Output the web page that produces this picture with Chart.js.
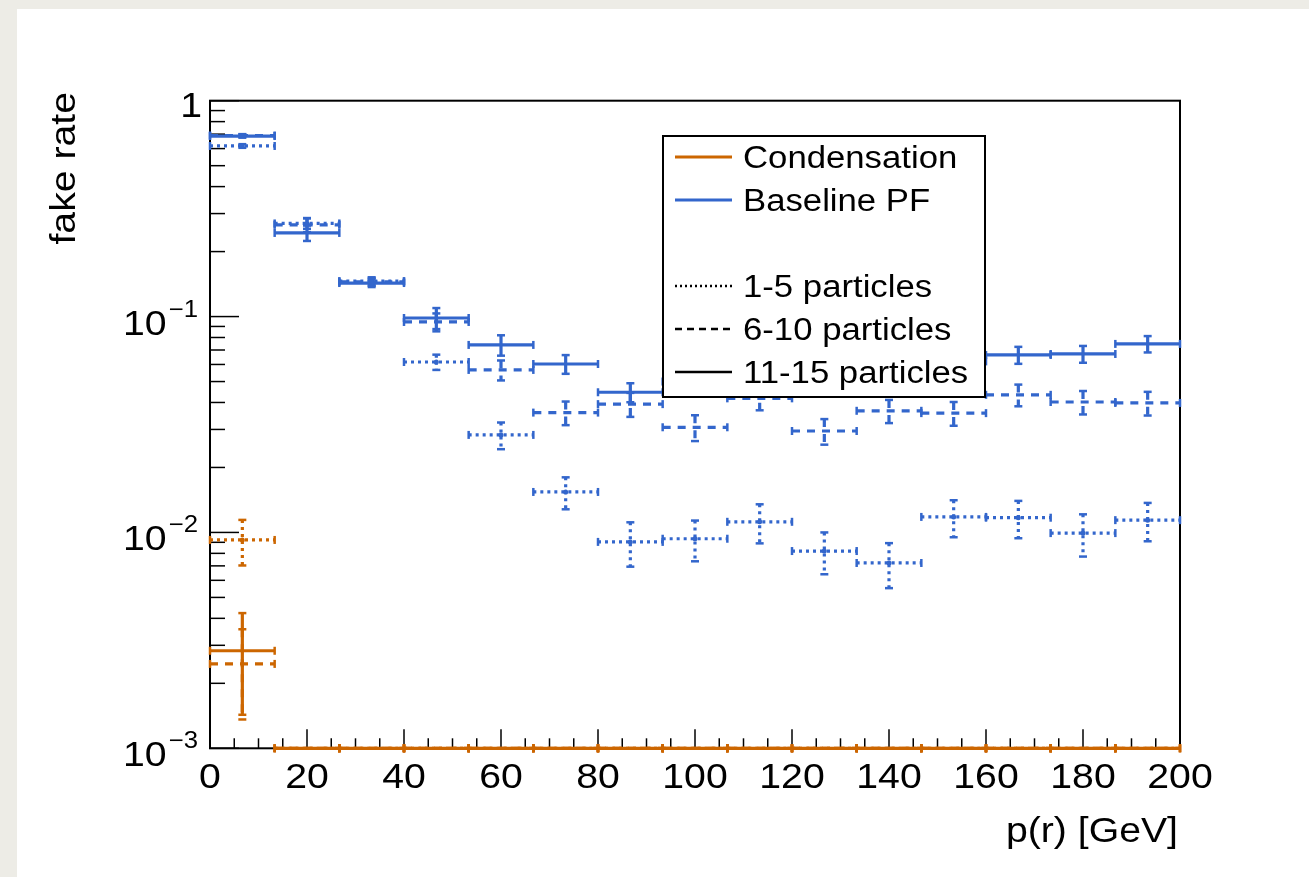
<!DOCTYPE html>
<html>
<head>
    <title>fake rate vs p(r)</title>
    <script src="https://cdn.jsdelivr.net/npm/chart.js"></script>
    <style>
        body {
            margin: 0;
            padding: 0;
            overflow: hidden;
            background-color: #edece6;
        }
        #panel {
            position: absolute;
            left: 17px;
            top: 9px;
            right: 0;
            bottom: 0;
            background: #ffffff;
        }
        #chart-container {
            position: absolute;
            left: 0;
            top: 0;
            width: 1309px;
            height: 877px;
        }
    </style>
</head>
<body>
    <div id="panel"></div>
    <div id="chart-container">
        <canvas id="myChart"></canvas>
    </div>

    <script>
        // bins in p(r) [GeV]
        const binEdges = [0, 13.333, 26.667, 40, 53.333, 66.667, 80, 93.333, 106.667, 120, 133.333, 146.667, 160, 173.333, 186.667, 200];
        const binCenters = [6.667, 20, 33.333, 46.667, 60, 73.333, 86.667, 100, 113.333, 126.667, 140, 153.333, 166.667, 180, 193.333];

        // Baseline PF
        const pf1to5 = [0.617, 0.270, 0.146, 0.0616, 0.0283, 0.0154, 0.00904, 0.00935, 0.0112, 0.0082, 0.00722, 0.0118, 0.0117, 0.00993, 0.0114];
        const pf1to5Err = [0.012, 0.015, 0.006, 0.005, 0.004, 0.0026, 0.0021, 0.002, 0.0023, 0.0018, 0.0017, 0.0023, 0.0023, 0.0022, 0.0023];
        const pf6to10 = [0.69, 0.266, 0.145, 0.0944, 0.0566, 0.0359, 0.0393, 0.0307, 0.0418, 0.0295, 0.0366, 0.0357, 0.0434, 0.0402, 0.0398];
        const pf6to10Err = [0.01, 0.02, 0.006, 0.009, 0.006, 0.0045, 0.005, 0.0042, 0.005, 0.004, 0.0045, 0.0045, 0.005, 0.005, 0.005];
        const pf11to15 = [0.686, 0.244, 0.143, 0.0985, 0.0739, 0.0603, 0.0446, 0.050, 0.052, 0.055, 0.058, 0.062, 0.0664, 0.0671, 0.0747];
        const pf11to15Err = [0.012, 0.02, 0.006, 0.011, 0.008, 0.006, 0.0045, 0.005, 0.005, 0.005, 0.005, 0.006, 0.006, 0.006, 0.0065];

        // Condensation
        const cond1to5 = [0.00923, 0, 0, 0, 0, 0, 0, 0, 0, 0, 0, 0, 0, 0, 0];
        const cond1to5Err = [0.0022, 0, 0, 0, 0, 0, 0, 0, 0, 0, 0, 0, 0, 0, 0];
        const cond6to10 = [0.00246, 0, 0, 0, 0, 0, 0, 0, 0, 0, 0, 0, 0, 0, 0];
        const cond6to10Err = [0.0011, 0, 0, 0, 0, 0, 0, 0, 0, 0, 0, 0, 0, 0, 0];
        const cond11to15 = [0.00283, 0, 0, 0, 0, 0, 0, 0, 0, 0, 0, 0, 0, 0, 0];
        const cond11to15Err = [0.0014, 0, 0, 0, 0, 0, 0, 0, 0, 0, 0, 0, 0, 0, 0];

        const xTicks = [0, 20, 40, 60, 80, 100, 120, 140, 160, 180, 200];
        const yDecades = [1, 0.1, 0.01, 0.001];

        const ORANGE = '#cc6600';
        const BLUE = '#3366cc';
        const FONT = "'Liberation Sans', Arial, Helvetica, sans-serif";
        const DOT = [3, 4];
        const DASH = [8, 7];
        const STRETCH = 1.12;   // ROOT's Helvetica renders a little wider

        const series = [
            { label: 'Condensation 1-5', values: cond1to5, errors: cond1to5Err, color: ORANGE, dash: DOT },
            { label: 'Condensation 6-10', values: cond6to10, errors: cond6to10Err, color: ORANGE, dash: DASH },
            { label: 'Condensation 11-15', values: cond11to15, errors: cond11to15Err, color: ORANGE, dash: [] },
            { label: 'Baseline PF 1-5', values: pf1to5, errors: pf1to5Err, color: BLUE, dash: DOT },
            { label: 'Baseline PF 6-10', values: pf6to10, errors: pf6to10Err, color: BLUE, dash: DASH },
            { label: 'Baseline PF 11-15', values: pf11to15, errors: pf11to15Err, color: BLUE, dash: [] }
        ];

        function rootText(ctx, str, x, y, size, align, rot) {
            ctx.save();
            ctx.translate(x, y);
            if (rot) ctx.rotate(rot);
            ctx.scale(STRETCH, 1);
            ctx.font = size + 'px ' + FONT;
            ctx.textAlign = align;
            ctx.textBaseline = 'alphabetic';
            ctx.fillStyle = '#000';
            ctx.fillText(str, 0, 0);
            ctx.restore();
        }

        function textWidth(ctx, str, size) {
            ctx.save();
            ctx.font = size + 'px ' + FONT;
            const w = ctx.measureText(str).width * STRETCH;
            ctx.restore();
            return w;
        }

        function line(ctx, x0, y0, x1, y1) {
            ctx.beginPath();
            ctx.moveTo(x0, y0);
            ctx.lineTo(x1, y1);
            ctx.stroke();
        }

        // ROOT-like frame, ticks, histogram error bars (E1) and legend
        const rootStyle = {
            id: 'rootStyle',
            beforeDatasetsDraw(chart) {
                const ctx = chart.ctx;
                const a = chart.chartArea;
                const xs = chart.scales.x, ys = chart.scales.y;
                ctx.save();
                ctx.strokeStyle = '#000';

                // frame
                ctx.lineWidth = 2;
                ctx.strokeRect(a.left, a.top, a.right - a.left, a.bottom - a.top);

                // x ticks
                ctx.lineWidth = 1.5;
                for (let v = 0; v <= 200; v += 5) {
                    const px = xs.getPixelForValue(v);
                    const len = (v % 20 === 0) ? 19 : 10;
                    line(ctx, px, a.bottom, px, a.bottom - len);
                }
                // y ticks (log)
                for (let d = 0.001; d < 1.5; d *= 10) {
                    for (let m = 1; m <= 9; m++) {
                        const v = d * m;
                        if (v > 1.0001) break;
                        const py = ys.getPixelForValue(v);
                        line(ctx, a.left, py, a.left + (m === 1 ? 29 : 15), py);
                    }
                }

                // tick labels
                xTicks.forEach(v => {
                    rootText(ctx, String(v), xs.getPixelForValue(v), a.bottom + 40, 35, 'center');
                });
                yDecades.forEach(v => {
                    const py = ys.getPixelForValue(v);
                    const e = Math.round(Math.log10(v));
                    if (e === 0) {
                        rootText(ctx, '1', 202, py + 16, 35, 'right');
                    } else {
                        const sup = '\u2212' + Math.abs(e);
                        const supW = textWidth(ctx, sup, 23);
                        rootText(ctx, sup, 198 - supW, py, 23, 'left');
                        rootText(ctx, '10', 198 - supW - 2, py + 18, 35, 'right');
                    }
                });

                // axis titles
                rootText(ctx, 'p(r) [GeV]', 1178, 842, 35, 'right');
                rootText(ctx, 'fake rate', 75, 92, 35, 'right', -Math.PI / 2);
                ctx.restore();
            },
            afterDatasetsDraw(chart) {
                const ctx = chart.ctx;
                const xs = chart.scales.x, ys = chart.scales.y;
                const yPix = v => ys.getPixelForValue(Math.max(v, ys.min));
                chart.data.datasets.forEach(ds => {
                    ctx.save();
                    ctx.strokeStyle = ds.borderColor;
                    ds.data.forEach((p, i) => {
                        const x0 = xs.getPixelForValue(binEdges[i]);
                        const x1 = xs.getPixelForValue(binEdges[i + 1]);
                        const xc = xs.getPixelForValue(p.x);
                        const yc = yPix(p.y);
                        const err = ds.errors[i];
                        const yUp = yPix(p.y + err);
                        const yDn = yPix(p.y - err);
                        ctx.lineWidth = 3.2;
                        ctx.setLineDash(ds.borderDash);
                        line(ctx, x0, yc, x1, yc);
                        if (err > 0) line(ctx, xc, yUp, xc, yDn);
                        ctx.setLineDash([]);
                        ctx.lineWidth = 2.5;
                        line(ctx, x0, yc - 4, x0, yc + 4);
                        line(ctx, x1, yc - 4, x1, yc + 4);
                        if (err > 0) {
                            line(ctx, xc - 4, yUp, xc + 4, yUp);
                            line(ctx, xc - 4, yDn, xc + 4, yDn);
                        }
                        if (ds.borderDash === DOT && p.y > 0) {
                            ctx.fillStyle = ds.borderColor;
                            ctx.beginPath();
                            ctx.arc(xc, yc, 2.5, 0, Math.PI * 2);
                            ctx.fill();
                        }
                    });
                    ctx.restore();
                });
            },
            afterDraw(chart) {
                const ctx = chart.ctx;
                ctx.save();
                // legend
                const L = { x: 663, y: 136, w: 322, h: 261 };
                ctx.fillStyle = '#fff';
                ctx.fillRect(L.x, L.y, L.w, L.h);
                ctx.lineWidth = 2;
                ctx.strokeStyle = '#000';
                ctx.strokeRect(L.x, L.y, L.w, L.h);
                const entries = [
                    { text: 'Condensation', color: ORANGE, dash: [], row: 0 },
                    { text: 'Baseline PF', color: BLUE, dash: [], row: 1 },
                    { text: '1-5 particles', color: '#000', dash: [2, 3], row: 3 },
                    { text: '6-10 particles', color: '#000', dash: [7, 5], row: 4 },
                    { text: '11-15 particles', color: '#000', dash: [], row: 5 }
                ];
                entries.forEach(en => {
                    const cy = 157 + en.row * 43;
                    ctx.strokeStyle = en.color;
                    ctx.lineWidth = en.row >= 3 ? 2.5 : 3;
                    ctx.setLineDash(en.dash);
                    line(ctx, 675, cy, 732, cy);
                    ctx.setLineDash([]);
                    rootText(ctx, en.text, 743, cy + 11, 31, 'left');
                });
                ctx.restore();
            }
        };

        const ctx = document.getElementById('myChart');

        new Chart(ctx, {
            type: 'scatter',
            data: {
                datasets: series.map(s => ({
                    label: s.label,
                    data: binCenters.map((x, i) => ({ x: x, y: s.values[i] })),
                    errors: s.errors,
                    borderColor: s.color,
                    backgroundColor: s.color,
                    borderDash: s.dash,
                    pointRadius: 0,
                    showLine: false
                }))
            },
            options: {
                responsive: true,
                maintainAspectRatio: false,
                animation: false,
                layout: {
                    padding: { top: 100.7, right: 129, left: 0, bottom: 0 }
                },
                plugins: {
                    legend: { display: false },
                    tooltip: { enabled: false }
                },
                scales: {
                    x: {
                        type: 'linear',
                        min: 0,
                        max: 200,
                        grid: { display: false },
                        border: { display: false },
                        ticks: { display: false },
                        afterFit: s => { s.height = 877 - 748.3; }
                    },
                    y: {
                        type: 'logarithmic',
                        min: 0.001,
                        max: 1,
                        grid: { display: false },
                        border: { display: false },
                        ticks: { display: false },
                        afterFit: s => { s.width = 210; }
                    }
                }
            },
            plugins: [rootStyle]
        });
    </script>
</body>
</html>
